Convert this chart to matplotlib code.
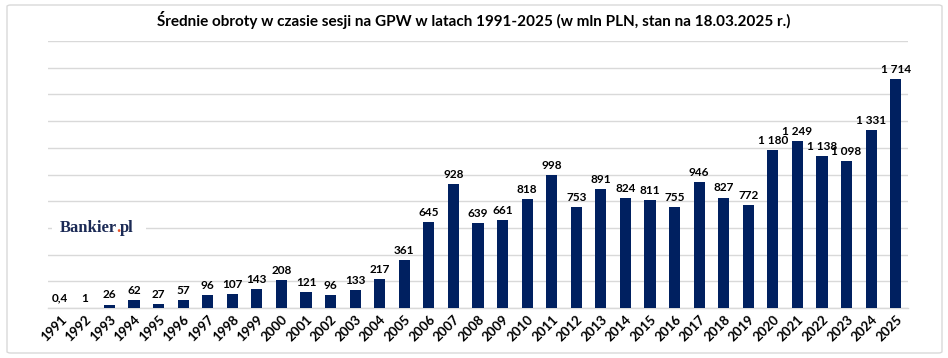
import matplotlib
matplotlib.use("Agg")
import matplotlib.pyplot as plt
from matplotlib.patches import FancyBboxPatch, Rectangle

years = [str(y) for y in range(1991, 2026)]
values = [0.4, 1, 26, 62, 27, 57, 96, 107, 143, 208, 121, 96, 133, 217, 361,
          645, 928, 639, 661, 818, 998, 753, 891, 824, 811, 755, 946, 827, 772,
          1180, 1249, 1138, 1098, 1331, 1714]
title = "Średnie obroty w czasie sesji na GPW w latach 1991-2025 (w mln PLN, stan na 18.03.2025 r.)"

def fmt(v):
    if v < 1:
        return f"{v:.1f}".replace(".", ",")
    s = f"{int(round(v)):,}".replace(",", " ")
    return s

plt.rcParams['font.family'] = ['Lato', 'DejaVu Sans']

W, H = 948, 358
fig = plt.figure(figsize=(W/100, H/100), dpi=100)
fig.patch.set_facecolor('white')

# outer border
border = FancyBboxPatch((7/W, 5/H), (942-7)/W, (353-5)/H,
                        boxstyle="round,pad=0,rounding_size=0.004",
                        transform=fig.transFigure, facecolor='none',
                        edgecolor='#D9D9D9', linewidth=1.0, zorder=-1)
fig.patches.append(border)

ax = fig.add_axes([48/W, 1-308/H, (908-48)/W, (308-41)/H])
ax.set_facecolor('none')
x = list(range(len(years)))
bars = ax.bar(x, values, width=0.45, color='#002060', zorder=3)
ax.set_xlim(-0.5, len(years)-0.5)
ax.set_ylim(0, 2000)
ax.set_yticks(range(0, 2001, 200))
ax.yaxis.grid(True, color='#D9D9D9', linewidth=1.0, zorder=0)
ax.set_axisbelow(True)
ax.tick_params(axis='y', length=0, labelleft=False)
ax.tick_params(axis='x', length=0, pad=4)
for s in ['top', 'right', 'left']:
    ax.spines[s].set_visible(False)
ax.spines['bottom'].set_color('#D9D9D9')
ax.spines['bottom'].set_linewidth(1.0)
ax.set_xticks(x)
ax.set_xticklabels(years, rotation=45, ha='right', va='top',
                   rotation_mode='anchor', fontsize=9.5, fontweight='bold',
                   color='#000000')

for xi, v in zip(x, values):
    ax.annotate(fmt(v), (xi, v), xytext=(0, 3), textcoords='offset points',
                ha='center', va='bottom', fontsize=8.5, fontweight='bold',
                color='#000000', zorder=4)

fig.text(474/W, 1-20/H, title, ha='center', va='center', fontsize=11,
         fontweight='bold', color='#000000')

# logo
logo_y = 1-232/H
logo_font = 'Liberation Serif'
fig.patches.append(Rectangle((52/W, 1-238/H), (146-52)/W, 20/H,
                             transform=fig.transFigure, facecolor='white',
                             edgecolor='none', zorder=4))
t1 = fig.text(60/W, logo_y, "Bankier", ha='left', va='baseline',
              fontsize=12, fontweight='bold', family=logo_font,
              color='#1B2A55', zorder=5)
fig.canvas.draw()
r = fig.canvas.get_renderer()
bb = t1.get_window_extent(r)
t2 = fig.text((bb.x1 - 1)/W, logo_y, ".", ha='left', va='baseline', fontsize=12,
              fontweight='bold', family=logo_font, color='#E8542A', zorder=6)
bb2 = t2.get_window_extent(r)
fig.text((bb2.x1 - 1)/W, logo_y, "pl", ha='left', va='baseline', fontsize=12,
         fontweight='bold', family=logo_font, color='#1B2A55', zorder=6)

fig.savefig("out.png", dpi=100, facecolor='white')
